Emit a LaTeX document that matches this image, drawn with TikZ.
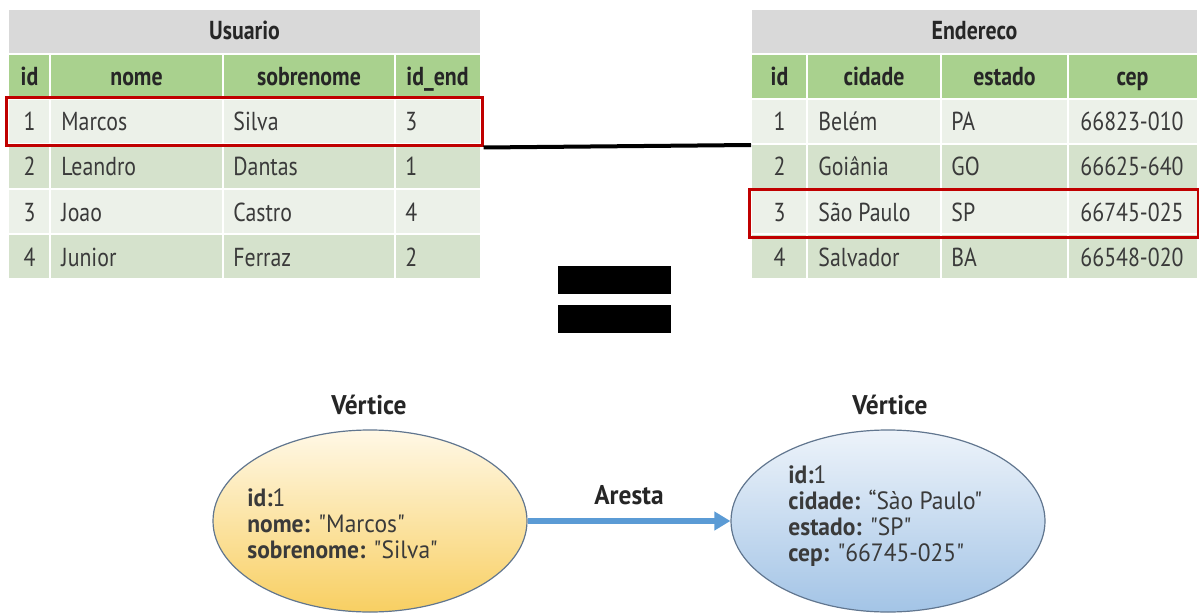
\documentclass[tikz,border=0pt]{standalone}
\usepackage{fontspec}
\setmainfont[FakeStretch=0.84, Ligatures=TeXOff]{PT Sans}
\newfontfamily\widefont[FakeStretch=0.94, Ligatures=TeXOff]{PT Sans}
\usetikzlibrary{shapes.geometric, arrows.meta}

\definecolor{titlegray}{HTML}{D9D9D9}
\definecolor{headgreen}{HTML}{A9D18E}
\definecolor{rowlight}{HTML}{ECF1E9}
\definecolor{rowdark}{HTML}{D5E2CC}
\definecolor{celltext}{HTML}{3A3A3A}
\definecolor{hired}{HTML}{C00000}
\definecolor{rimgray}{HTML}{61768F}
\definecolor{edgeblue}{HTML}{5B9BD5}
\definecolor{goldlow}{HTML}{F8CF62}
\definecolor{creamtop}{HTML}{FFF8E6}
\definecolor{bluetop}{HTML}{EDF3FA}
\definecolor{bluelow}{HTML}{A3C4E6}

\tikzset{
    tabtxt/.style={font=\fontsize{13}{14}\selectfont, text=celltext, inner sep=0pt, anchor=base},
    headtxt/.style={font=\fontsize{13}{14}\selectfont\bfseries, text=black!85, inner sep=0pt, anchor=base},
    sep/.style={draw=white, line width=1pt},
    hilite/.style={draw=hired, line width=1.5pt, minimum width=238pt, minimum height=24pt, inner sep=0pt},
    bar/.style={fill=black, minimum width=56.5pt, minimum height=14pt, inner sep=0pt},
    vertex/.style={ellipse, draw=rimgray, line width=0.6pt, minimum width=157pt, minimum height=91pt},
    vtxt/.style={font=\widefont\fontsize{12.5}{13}\selectfont, text=celltext, align=left, anchor=west, inner sep=0pt},
    vlabel/.style={font=\widefont\fontsize{13.5}{14}\selectfont\bfseries, text=black!85}
}

\begin{document}
\begin{tikzpicture}[x=0.5pt, y=-0.5pt]
    \useasboundingbox (0,0) rectangle (1199,615);

    % Usuario
    \fill[titlegray] (9,10) rectangle (480,53);
    \node[headtxt] (usuario) at (244.5,40) {Usuario};
    \foreach \yt/\col in {55/headgreen, 100/rowlight, 145/rowdark, 190/rowlight, 235/rowdark}
        \fill[\col] (9,\yt) rectangle (480,\yt+43);
    \foreach \xs in {50,223,395}
        \draw[sep] (\xs,55) -- (\xs,278);
    \foreach \xc/\hd/\nm in {29.5/id/id, 136.5/nome/nome, 309/sobrenome/sob, 437.5/id\_end/idend}
        \node[headtxt] (u-\nm) at (\xc,86) {\hd};
    \foreach \iv/\nv/\sv/\ev [count=\r] in {1/Marcos/Silva/3, 2/Leandro/Dantas/1, 3/Joao/Castro/4, 4/Junior/Ferraz/2} {
        \node[tabtxt] (u-id-\r) at (29.5,86+45*\r) {\iv};
        \node[tabtxt, anchor=base west] (u-nome-\r) at (61,86+45*\r) {\nv};
        \node[tabtxt, anchor=base west] (u-sob-\r) at (233,86+45*\r) {\sv};
        \node[tabtxt, anchor=base west] (u-idend-\r) at (405,86+45*\r) {\ev};
    }

    % Endereco
    \fill[titlegray] (752,10) rectangle (1197,53);
    \node[headtxt] (endereco) at (974.5,40) {Endereco};
    \foreach \yt/\col in {55/headgreen, 100/rowlight, 145/rowdark, 190/rowlight, 235/rowdark}
        \fill[\col] (752,\yt) rectangle (1197,\yt+43);
    \foreach \xs in {807,941,1068}
        \draw[sep] (\xs,55) -- (\xs,278);
    \foreach \xc/\hd in {779.5/id, 874/cidade, 1004.5/estado, 1132.5/cep}
        \node[headtxt] (e-\hd) at (\xc,86) {\hd};
    \foreach \iv/\cv/\sv/\pv [count=\r] in {1/Belém/PA/66823-010, 2/Goiânia/GO/66625-640, 3/São Paulo/SP/66745-025, 4/Salvador/BA/66548-020} {
        \node[tabtxt] (e-id-\r) at (779.5,86+45*\r) {\iv};
        \node[tabtxt, anchor=base west] (e-cid-\r) at (818,86+45*\r) {\cv};
        \node[tabtxt, anchor=base west] (e-est-\r) at (951,86+45*\r) {\sv};
        \node[tabtxt] (e-cep-\r) at (1132,86+45*\r) {\pv};
    }

    \node[hilite] (sel-u) at (244,122) {};
    \node[hilite, minimum width=224.5pt] (sel-e) at (973.5,213) {};
    \coordinate (e-edge) at (751,145);
    \draw[line width=2pt] (sel-u.south east) -- (e-edge);

    \node[bar] (eq-top) at (614.5,280) {};
    \node[bar] (eq-bot) at (614.5,319) {};

    % graph
    \node[vertex, top color=creamtop, bottom color=goldlow] (usr) at (370,521) {};
    \node[vertex, top color=bluetop, bottom color=bluelow] (adr) at (888,521) {};
    \node[vlabel] (v-usr) at (369,405) {Vértice};
    \node[vlabel] (v-adr) at (890,405) {Vértice};
    \node[vtxt] (usr-txt) at (247,524) {\textbf{id:}1\\\textbf{nome:} "Marcos"\\\textbf{sobrenome:} "Silva"};
    \node[vtxt] (adr-txt) at (788,516) {\textbf{id:}1\\\textbf{cidade:} “Sào Paulo"\\\textbf{estado:} "SP"\\\textbf{cep:} "66745-025"};
    \draw[edgeblue, line width=3pt, -{Triangle[length=8pt, width=9pt]}] (usr) -- node[vlabel, above=3pt] (aresta) {Aresta} (adr);
\end{tikzpicture}
\end{document}
